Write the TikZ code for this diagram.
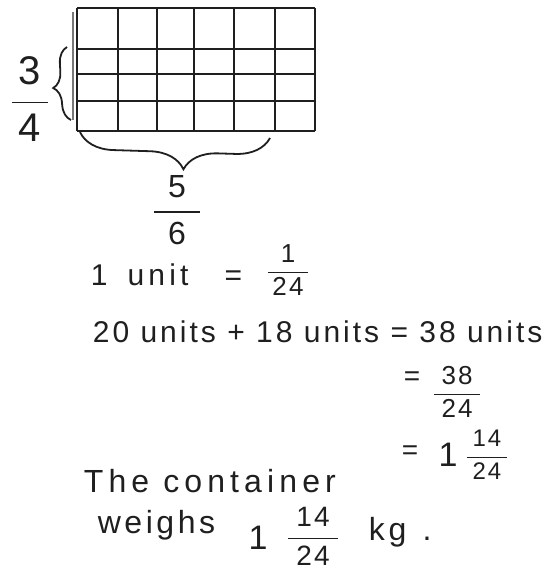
\documentclass[tikz,border=0pt]{standalone}
\usepackage{amsmath}
\usepackage{fontspec}
\setmainfont{Liberation Sans}[LetterSpace=8]
\usetikzlibrary{decorations.pathreplacing}
\colorlet{ink}{black!88}
\newcommand{\hfrac}[3][0.17em]{$\dfrac{\text{\hspace{#1}#2\hspace{#1}}}{\text{\hspace{#1}#3\hspace{#1}}}$}

\begin{document}
\begin{tikzpicture}[x=0.5pt,y=-0.5pt,ink,line width=0.9pt,
  hand/.style={inner sep=0pt,text=ink},
  brc/.style={decorate,decoration={brace,amplitude=#1,aspect=0.45}}]
\useasboundingbox (0,0) rectangle (548,569);
% grid, 6 columns by 4 rows
\foreach \x in {77,118,157,194,234,275,315} \draw (\x,8)--(\x,131);
\foreach \y in {8,49,74,101,131} \draw (77,\y)--(315,\y);
\draw[ink!60] (73,12)--(73,120);
% braces
\coordinate (lt) at (67,47); \coordinate (lb) at (71,120);
\coordinate (bl) at (80,132); \coordinate (br) at (270,138);
\draw[brc=8pt] (lb)--(lt);
\draw[brc=17pt] (br)--(bl);
\node[hand,font=\fontsize{20}{24}\selectfont] (tq) at (30,99) {\hfrac{3}{4}};
\node[hand,font=\fontsize{16}{19}\selectfont] (fs) at (177,210) {\hfrac[0.45em]{5}{6}};
% working
\node[hand,anchor=base west,font=\fontsize{15}{18}\selectfont] (unit) at (90,285) {\addfontfeature{LetterSpace=14}1\hspace{10pt}unit\hspace{18pt}=};
\node[hand,font=\fontsize{13}{16}\selectfont] (ufr) at (288,270) {\hfrac{1}{24}};
\node[hand,anchor=base west,font=\fontsize{15}{18}\selectfont] (sum) at (92,342) {\addfontfeature{LetterSpace=10}20 units + 18 units = 38 units};
\node[hand,font=\fontsize{14}{17}\selectfont] (eqa) at (412,379) {=};
\node[hand,font=\fontsize{13}{16}\selectfont] (tt) at (457,392) {\hfrac[0.3em]{38}{24}};
\node[hand,font=\fontsize{14}{17}\selectfont] (eqb) at (410,453) {=};
\node[hand,font=\fontsize{17}{20}\selectfont] (one) at (448,455) {1};
\node[hand,font=\fontsize{12}{14}\selectfont] (fr) at (487,455) {\hfrac[0.25em]{14}{24}};
% answer
\node[hand,anchor=base west,font=\fontsize{16}{19}\selectfont] (cont) at (83,492) {\addfontfeature{LetterSpace=16}The container};
\node[hand,anchor=base west,font=\fontsize{16}{19}\selectfont] (wgh) at (97,533) {\addfontfeature{LetterSpace=11}weighs};
\node[hand,font=\fontsize{17}{20}\selectfont] (mone) at (258,538) {1};
\node[hand,font=\fontsize{14}{17}\selectfont] (mfr) at (313,536) {\hfrac[0.3em]{14}{24}};
\node[hand,anchor=base west,font=\fontsize{16}{19}\selectfont] (kg) at (368,540) {\addfontfeature{LetterSpace=12}kg\hspace{8pt}.};
\end{tikzpicture}
\end{document}
